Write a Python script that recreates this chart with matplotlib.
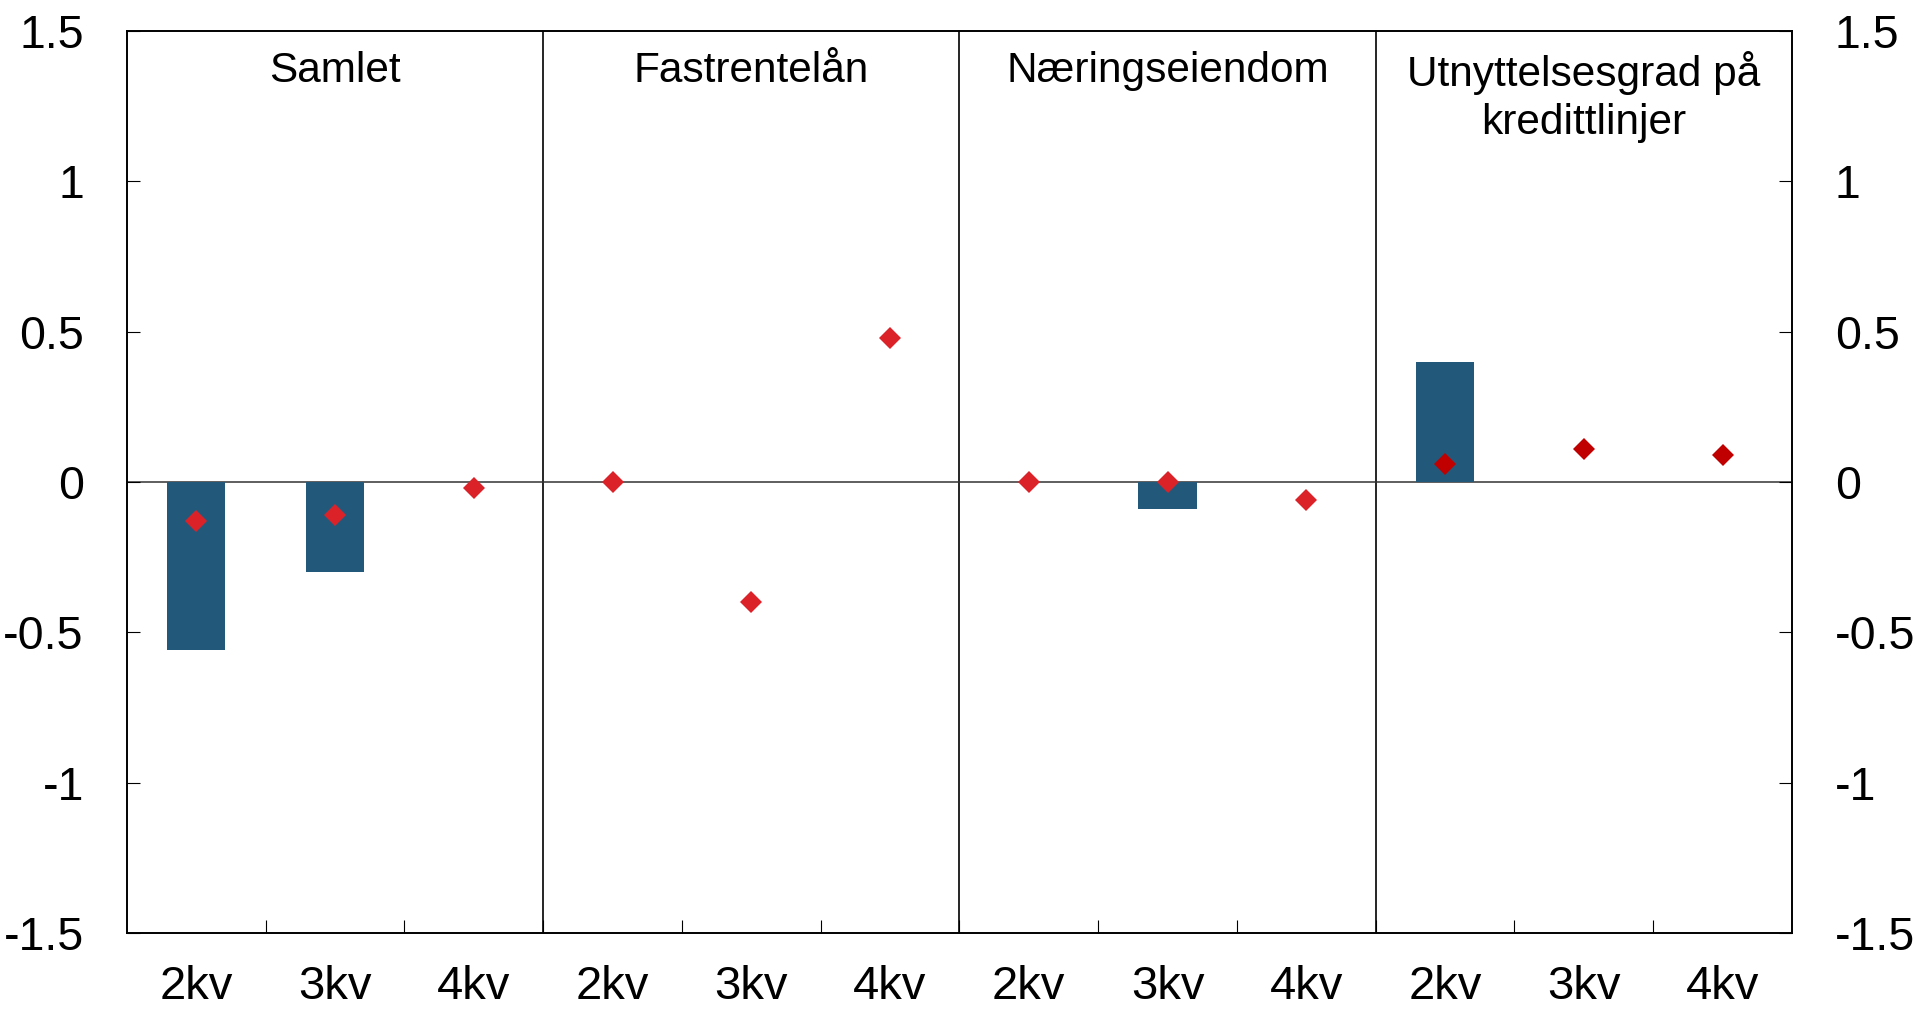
import matplotlib
matplotlib.use("Agg")
import matplotlib.pyplot as plt
import numpy as np

plt.rcParams['font.family'] = ['Liberation Sans', 'DejaVu Sans']

# data
panels = ['Samlet', 'Fastrentelån', 'Næringseiendom', 'Utnyttelsesgrad på\nkredittlinjer']
quarters = ['2kv', '3kv', '4kv']
bars_samlet = [-0.56, -0.30, 0.0]
bars_fastrente = [0.0, 0.0, 0.0]
bars_naering = [0.0, -0.09, 0.0]
bars_utnytt = [0.40, 0.0, 0.0]
dots_samlet = [-0.13, -0.11, -0.02]
dots_fastrente = [0.0, -0.40, 0.48]
dots_naering = [0.0, 0.0, -0.06]
dots_utnytt = [0.06, 0.11, 0.09]
yticks = [-1.5, -1, -0.5, 0, 0.5, 1, 1.5]

bars = [bars_samlet, bars_fastrente, bars_naering, bars_utnytt]
dots = [dots_samlet, dots_fastrente, dots_naering, dots_utnytt]
dot_colors = ['#DC2229', '#DC2229', '#DC2229', '#C00000']

fig = plt.figure(figsize=(19.2, 10.09), dpi=100)
ax = fig.add_axes([0.0661, 0.0753, 0.8672, 0.894])

n = len(quarters)
for i in range(len(panels)):
    x = np.arange(n) + i * n
    ax.bar(x, bars[i], width=0.42, color='#22597A', zorder=2)
    ax.plot(x, dots[i], linestyle='none', marker='D', markersize=11,
            markeredgewidth=0, color=dot_colors[i], zorder=3)
    ax.text(i * n + 1, 0.978, panels[i], transform=ax.get_xaxis_transform(),
            ha='center', va='top', fontsize=30.5, linespacing=1.25)
    if i > 0:
        ax.axvline(i * n - 0.5, color='black', lw=1.2, zorder=1)

ax.axhline(0, color='#333333', lw=1.1, zorder=1)

ax.set_xlim(-0.5, len(panels) * n - 0.5)
ax.set_ylim(-1.5, 1.5)
ax.set_yticks(yticks)
ax.set_yticklabels(['-1.5', '-1', '-0.5', '0', '0.5', '1', '1.5'])
ax.tick_params(axis='y', direction='in', length=9.5, width=0.8, labelsize=33.5,
               left=True, right=True, labelleft=True, labelright=True, pad=31)

ax.set_xticks(np.arange(len(panels) * n))
ax.set_xticklabels(quarters * len(panels))
ax.tick_params(axis='x', which='major', length=0, labelsize=34, pad=23)
ax.set_xticks(np.arange(len(panels) * n - 1) + 0.5, minor=True)
ax.tick_params(axis='x', which='minor', direction='in', length=9.5, width=0.8)

for s in ax.spines.values():
    s.set_linewidth(1.4)

fig.savefig('out.png', dpi=100)
